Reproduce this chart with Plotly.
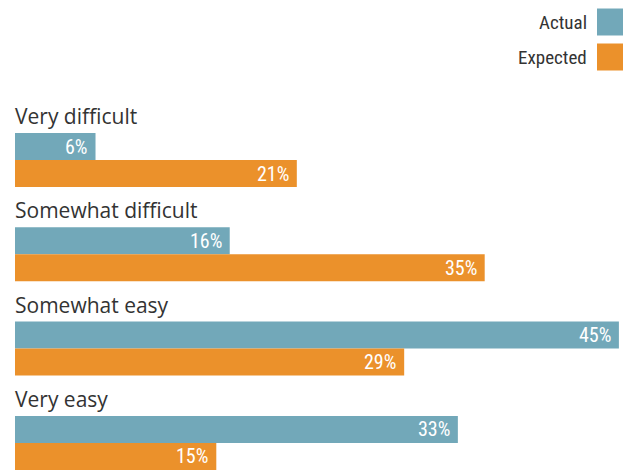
import plotly.graph_objects as go

categories = ["Very difficult", "Somewhat difficult", "Somewhat easy", "Very easy"]
actual = [6, 16, 45, 33]
expected = [21, 35, 29, 15]
series_names = ["Actual", "Expected"]
colors = ["#72a8b9", "#eb912b"]

W, H = 623, 471
PX_PER_PCT = 13.42
X0_PX = 15
xmin = -X0_PX / PX_PER_PCT
xmax = (W - X0_PX) / PX_PER_PCT

FIRST_TOP = 133
PITCH = 94.3
BAR_H = 27

tops = [FIRST_TOP + i * PITCH for i in range(len(categories))]
y_actual = [t + BAR_H / 2 for t in tops]
y_expected = [t + BAR_H * 1.5 for t in tops]

fig = go.Figure()
fig.add_trace(go.Bar(y=y_actual, x=actual, orientation="h", width=BAR_H,
                     marker=dict(color=colors[0], line=dict(width=0)),
                     name=series_names[0], hoverinfo="skip"))
fig.add_trace(go.Bar(y=y_expected, x=expected, orientation="h", width=BAR_H,
                     marker=dict(color=colors[1], line=dict(width=0)),
                     name=series_names[1], hoverinfo="skip"))

label_font = "Liberation Sans Narrow, Roboto Condensed, Arial Narrow, sans-serif"
annotations = []
for ys, vals in ((y_actual, actual), (y_expected, expected)):
    for y, v in zip(ys, vals):
        annotations.append(dict(x=v, y=y, xref="x", yref="y", text=f"{v}%",
                                showarrow=False, xanchor="right", yanchor="middle",
                                xshift=-6, font=dict(color="white", size=20, family=label_font)))
for t, c in zip(tops, categories):
    annotations.append(dict(x=0, y=t - 17, xref="x", yref="y", text=c, showarrow=False,
                            xanchor="left", yanchor="middle", xshift=-2,
                            font=dict(color="#333333", size=21, family="Open Sans, sans-serif")))

# legend (text left of swatch)
shapes = []
leg_y = [22, 57]
for name, col, ly in zip(series_names, colors, leg_y):
    shapes.append(dict(type="rect", xref="paper", yref="y", x0=(597) / W, x1=1.0,
                       y0=ly - 13.5, y1=ly + 13.5, fillcolor=col, line=dict(width=0)))
    annotations.append(dict(x=589 / W, y=ly, xref="paper", yref="y", text=name, showarrow=False,
                            xanchor="right", yanchor="middle",
                            font=dict(color="#333333", size=19, family=label_font)))

fig.update_layout(
    width=W, height=H, margin=dict(l=0, r=0, t=0, b=0),
    paper_bgcolor="white", plot_bgcolor="white",
    showlegend=False, barmode="overlay",
    xaxis=dict(range=[xmin, xmax], visible=False, fixedrange=True),
    yaxis=dict(range=[H, 0], visible=False, fixedrange=True),
    annotations=annotations, shapes=shapes,
)
fig.write_html("out.html")
